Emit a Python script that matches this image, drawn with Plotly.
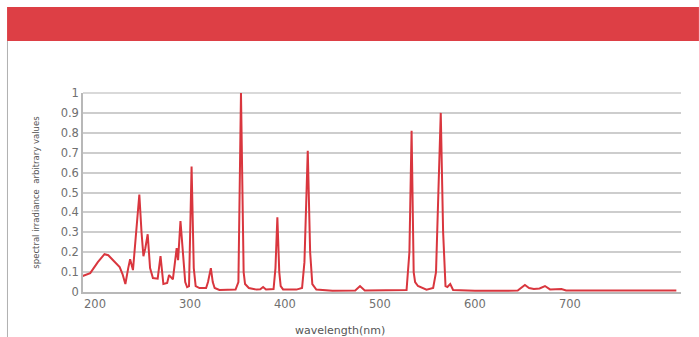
import plotly.graph_objects as go

wavelength_nm = [187, 195, 203, 210, 214, 217, 221, 226, 229, 232, 235, 237, 240, 243, 246.7, 249, 251,
                 253, 255.5, 258, 261, 266, 269, 272, 276, 278, 282, 286, 287.5, 290, 293, 295, 297, 299,
                 301.7, 304, 306, 310, 317, 319, 322, 324, 326, 331, 348, 351, 353.7, 356.5, 358, 362,
                 370, 374, 377, 380, 388, 390, 392, 394, 395.5, 398, 412, 418, 420.5, 424, 426.5, 428.8,
                 433, 450, 474, 479, 484, 528, 531, 533.3, 535.5, 537, 540, 549, 556, 559, 561.5, 564,
                 566.5, 569, 571, 574, 577, 600, 645, 652.6, 657, 662, 668, 673.7, 679, 686, 691, 696,
                 750, 812]
irradiance = [0.08, 0.095, 0.15, 0.19, 0.185, 0.17, 0.145, 0.125, 0.09, 0.04, 0.12, 0.165, 0.11, 0.28,
              0.49, 0.30, 0.18, 0.22, 0.29, 0.12, 0.07, 0.067, 0.18, 0.04, 0.045, 0.085, 0.063, 0.22,
              0.16, 0.357, 0.15, 0.05, 0.025, 0.03, 0.63, 0.12, 0.03, 0.02, 0.02, 0.05, 0.12, 0.05, 0.02,
              0.01, 0.012, 0.05, 1.0, 0.10, 0.04, 0.02, 0.012, 0.014, 0.025, 0.013, 0.015, 0.12, 0.376,
              0.10, 0.03, 0.013, 0.012, 0.02, 0.15, 0.71, 0.2, 0.04, 0.012, 0.006, 0.008, 0.03, 0.008,
              0.01, 0.2, 0.81, 0.10, 0.05, 0.03, 0.012, 0.02, 0.1, 0.5, 0.90, 0.3, 0.03, 0.025, 0.04,
              0.01, 0.006, 0.007, 0.035, 0.02, 0.015, 0.018, 0.03, 0.013, 0.012, 0.015, 0.008, 0.007,
              0.007]
x_ticks = [200, 300, 400, 500, 600, 700]
y_ticks = [0, 0.1, 0.2, 0.3, 0.4, 0.5, 0.6, 0.7, 0.8, 0.9, 1]
y_tick_labels = ["0", "0.1", "0.2", "0.3", "0.4", "0.5", "0.6", "0.7", "0.8", "0.9", "1"]
x_title = "wavelength(nm)"
y_title = "spectral irradiance  arbitrary values"

RED = "#d9363e"
GRID = "#cdcdcd"
TXT = "#707070"
FONT = "DejaVu Sans"

fig = go.Figure()
fig.add_trace(go.Scatter(x=wavelength_nm, y=irradiance, mode="lines",
                         line=dict(color=RED, width=2), cliponaxis=False,
                         hoverinfo="skip", showlegend=False))

fig.update_layout(
    width=699, height=337, autosize=False,
    margin=dict(l=83, r=18, t=93, b=45),
    paper_bgcolor="white", plot_bgcolor="white",
    font=dict(family=FONT, size=10, color=TXT),
    xaxis=dict(range=[187.4, 816.9], tickvals=x_ticks, showgrid=False, zeroline=False,
               showline=True, linecolor="#b8b8b8", linewidth=1.5, ticks="",
               tickfont=dict(family=FONT, size=11.5, color=TXT)),
    yaxis=dict(range=[0, 1], tickvals=y_ticks, ticktext=y_tick_labels, showgrid=True,
               gridcolor=GRID, gridwidth=1.5, zeroline=False, showline=True,
               linecolor="#b8b8b8", linewidth=1.5, ticks="",
               tickfont=dict(family=FONT, size=11.5, color=TXT)),
    shapes=[
        dict(type="rect", xref="paper", yref="paper", x0=-0.127, x1=1.03, y0=1.261, y1=1.432,
             fillcolor="#dd3f45", line=dict(width=0), layer="below"),
        dict(type="line", xref="paper", yref="paper", x0=-0.1263, x1=-0.1263, y0=1.261, y1=-0.23,
             line=dict(color="#b0b0b0", width=1)),
        dict(type="line", xref="paper", yref="paper", x0=0, x1=1, y0=1, y1=1,
             line=dict(color=GRID, width=1.5), layer="below"),
    ],
    annotations=[
        dict(text=x_title, xref="paper", yref="paper", x=0.43, y=-0.191, showarrow=False,
             xanchor="center", yanchor="middle", font=dict(family=FONT, size=11, color="#555555")),
        dict(text=y_title, xref="paper", yref="paper", x=-0.080, y=0.5, showarrow=False,
             textangle=-90, xanchor="center", yanchor="middle",
             font=dict(family=FONT, size=8.5, color="#555555")),
    ],
)

fig.write_html("out.html", config={"displayModeBar": False},
               post_script="document.body.style.margin='0';document.body.style.overflow='hidden';")
